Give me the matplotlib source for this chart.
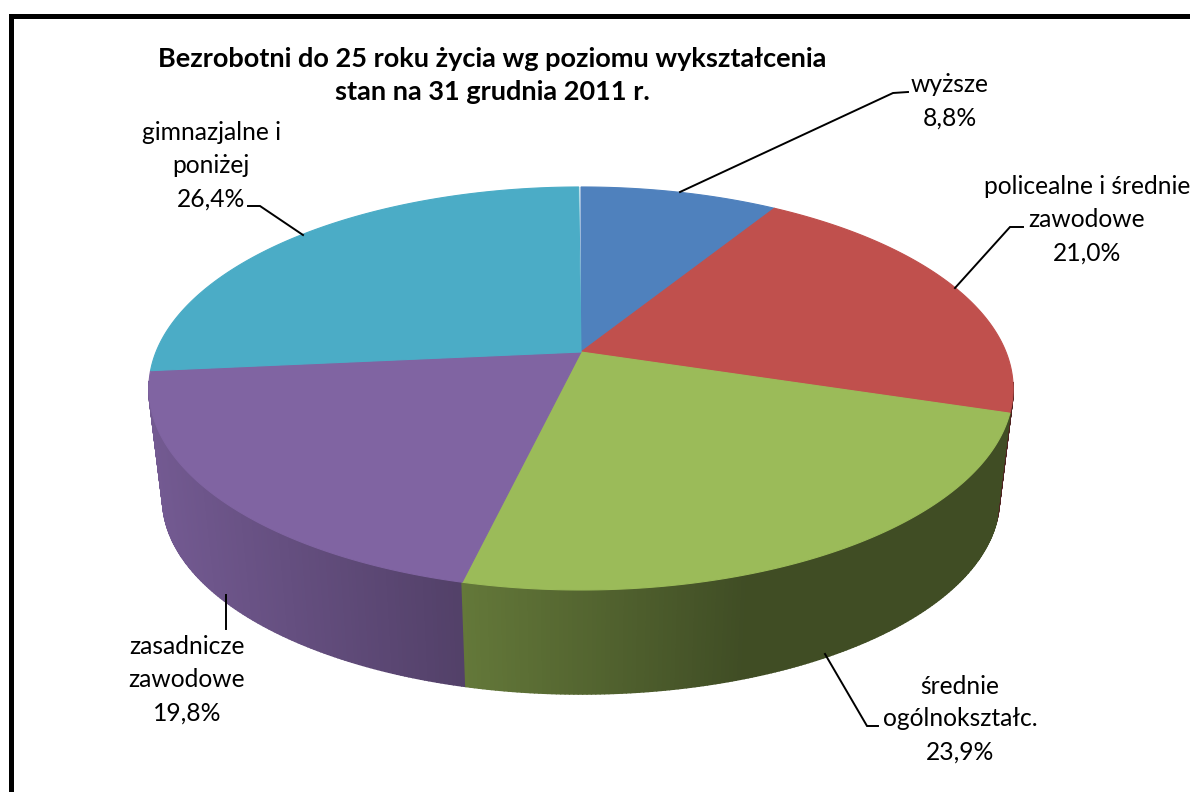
import numpy as np
import matplotlib
matplotlib.use('Agg')
import matplotlib.pyplot as plt
from matplotlib.collections import PolyCollection

# The data
categories = ['wyższe', 'policealne i średnie\nzawodowe', 'średnie\nogólnokształc.',
              'zasadnicze\nzawodowe', 'gimnazjalne i\nponiżej']
shares = [8.8, 21.0, 23.9, 19.8, 26.4]
title_lines = 'Bezrobotni do 25 roku życia wg poziomu wykształcenia\nstan na 31 grudnia 2011 r.'

# Colours of the slices
colors = np.array([[0x4F, 0x81, 0xBD], [0xC0, 0x50, 0x4D], [0x9B, 0xBB, 0x59],
                   [0x80, 0x64, 0xA2], [0x4B, 0xAC, 0xC6]]) / 255

# Pie geometry in pixels, the disc is seen in perspective
cx, cy = 581, 352
rx, ry = 425, 194.9
persp = 0.181
bottom_cy = 463.6
bottom_scale = 0.968

# Label centre and leader line of each slice
label_pos = [(950, 85), (1087, 187), (960, 686), (187, 647), (211, 133)]
leaders = [[(680, 192), (893, 93), (908, 92)],
           [(955, 288), (1010, 227), (1023, 227)],
           [(825, 654), (867, 726), (878, 726)],
           [(226, 595), (226, 629)],
           [(248, 206), (260, 206), (303, 235)]]

plt.rcParams['font.family'] = ['Lato', 'DejaVu Sans']


def project(theta, center_y, scale):
    # theta is clockwise from the top of the pie, in radians
    x, y = np.sin(theta), np.cos(theta)
    w = 1 + persp * y
    return cx + scale * rx * x / w, center_y - scale * ry * y / w


def side_shade(px):
    # the side gets darker from left to right, then stays flat
    return np.clip(0.9 - 0.00082 * (px - 150), 0.41, 0.9)


fig = plt.figure(figsize=(11.9, 7.92), dpi=100)
ax = fig.add_axes([0, 0, 1, 1])
ax.set_xlim(0, 1190)
ax.set_ylim(792, 0)
ax.axis('off')

# Frame around the chart, the right and lower sides are cut off
ax.plot([10.5, 10.5, 1190], [792, 15.5, 15.5], color='black', lw=3.6, solid_joinstyle='miter')

bounds = np.radians(np.concatenate([[0], np.cumsum(shares)]) * 3.6)

# Side wall of the pie, cut in small strips, only the part facing the viewer
strips, strip_colors, strip_depth = [], [], []
for i in range(len(shares)):
    n = max(int(np.degrees(bounds[i + 1] - bounds[i]) * 2), 2)
    t = np.linspace(bounds[i], bounds[i + 1], n + 1)
    tx, ty = project(t, cy, 1)
    bx, by = project(t, bottom_cy, bottom_scale)
    for j in range(n):
        if np.cos((t[j] + t[j + 1]) / 2) > -0.15:
            continue
        strips.append([(tx[j], ty[j]), (tx[j + 1], ty[j + 1]), (bx[j + 1], by[j + 1]), (bx[j], by[j])])
        strip_colors.append(colors[i] * side_shade((tx[j] + tx[j + 1]) / 2))
        strip_depth.append(ty[j])
order = np.argsort(strip_depth)
ax.add_collection(PolyCollection([strips[k] for k in order],
                                 facecolors=[strip_colors[k] for k in order],
                                 edgecolors=[strip_colors[k] for k in order],
                                 linewidths=1.2, zorder=2))

# Top face of the pie
for i in range(len(shares)):
    t = np.linspace(bounds[i], bounds[i + 1], 200)
    tx, ty = project(t, cy, 1)
    ax.fill(np.r_[cx, tx], np.r_[cy, ty], color=colors[i], lw=0.8, zorder=3)

# Leader lines
for pts in leaders:
    ax.plot([p[0] for p in pts], [p[1] for p in pts], color='black', lw=1.4, zorder=4,
            solid_joinstyle='miter')

# Labels
for name, share, (lx, ly) in zip(categories, shares, label_pos):
    lines = name.split('\n') + [f'{share:.1f}%'.replace('.', ',')]
    for k, line in enumerate(lines):
        ax.text(lx, ly + k * 32.8, line, ha='center', va='center', fontsize=17.7, color='black', zorder=5)

# Title
for k, line in enumerate(title_lines.split('\n')):
    ax.text(492, 59 + k * 33, line, ha='center', va='center', fontsize=19.5, fontweight='bold',
            color='black', zorder=5)

fig.savefig('out.png', dpi=100)
